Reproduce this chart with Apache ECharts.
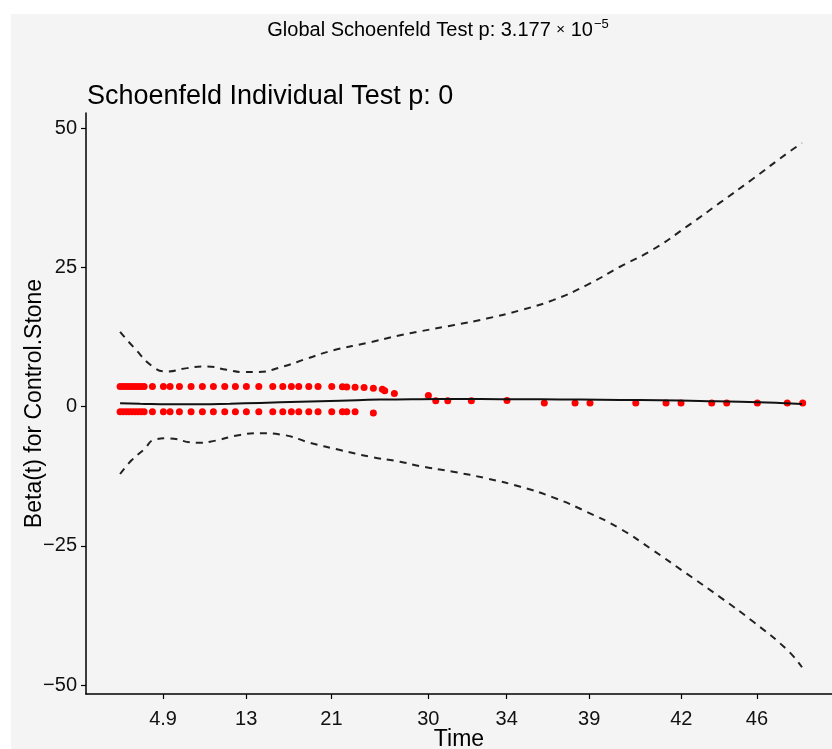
<!DOCTYPE html>
<html>
<head>
<meta charset="utf-8">
<script src="https://cdn.jsdelivr.net/npm/echarts@6/dist/echarts.min.js"></script>
<style>html,body{margin:0;padding:0;background:#fff;}#c{width:832px;height:749px;}</style>
</head>
<body>
<div id="c"></div>
<script>
// transformed time scale (0..100) of the event times
var xTickPos = [6.3, 18.5, 31.0, 45.2, 56.7, 68.8, 82.3, 93.4];
var xTickLabels = ['4.9', '13', '21', '30', '34', '39', '42', '46'];
var yTicks = [-50, -25, 0, 25, 50];

// scaled Schoenfeld residuals
var pointX = [
  0, 0.44, 0.88, 1.32, 1.76, 2.20, 2.64, 3.08, 3.52, 4.74, 6.35, 7.33, 8.70, 10.41, 12.07, 13.68,
  15.35, 16.91, 18.52, 20.34, 22.39, 23.86, 25.12, 26.20, 27.67, 29.03, 31.04, 32.60, 33.24, 34.46,
  35.78, 37.14, 38.46, 38.81, 40.22, 45.21, 46.29, 48.05, 51.51, 56.74, 62.21, 66.72, 68.91, 75.62,
  80.06, 82.26, 86.76, 88.96, 93.45, 97.84, 100.10,
  0, 0.44, 0.88, 1.32, 1.76, 2.20, 2.64, 3.08, 3.52, 4.74, 6.35, 7.33, 8.70, 10.41, 12.07, 13.68,
  15.35, 16.91, 18.52, 20.34, 22.39, 23.86, 25.12, 26.20, 27.67, 29.03, 31.04, 32.60, 33.24, 34.46,
  37.14
];
var pointY = [
  3.6, 3.6, 3.6, 3.6, 3.6, 3.6, 3.6, 3.6, 3.6, 3.6, 3.6, 3.6, 3.6, 3.6, 3.6, 3.6,
  3.6, 3.6, 3.6, 3.6, 3.6, 3.6, 3.6, 3.6, 3.6, 3.6, 3.6, 3.55, 3.5, 3.45,
  3.4, 3.3, 3.1, 2.85, 2.35, 2.0, 1.05, 1.05, 1.05, 1.1, 0.65, 0.65, 0.65, 0.65,
  0.65, 0.65, 0.65, 0.65, 0.65, 0.65, 0.65,
  -0.95, -0.95, -0.95, -0.95, -0.95, -0.95, -0.95, -0.95, -0.95, -0.95, -0.95, -0.95, -0.95, -0.95, -0.95, -0.95,
  -0.95, -0.95, -0.95, -0.95, -0.95, -0.95, -0.95, -0.95, -0.95, -0.95, -0.95, -0.95, -0.95, -0.95,
  -1.15
];

// smoothed beta(t)
var fitX = [0, 2.93, 7.33, 11.73, 16.13, 20.53, 26.39, 32.26, 38.12, 43.99, 49.85, 55.72, 61.58, 67.45, 73.31, 79.18, 85.04, 90.91, 96.77, 100];
var fitY = [0.6, 0.5, 0.4, 0.42, 0.52, 0.66, 0.86, 1.05, 1.25, 1.33, 1.35, 1.33, 1.3, 1.27, 1.2, 1.13, 1.0, 0.88, 0.65, 0.45];

// upper confidence band
var upX = [0, 1.95, 4.88, 6.85, 9.78, 12.71, 15.65, 18.08, 20.04, 23.94, 27.38, 31.28, 36.17, 41.06, 43.99, 48.83, 53.77, 58.72, 63.49, 68.43, 73.31, 78.15, 83.09, 87.98, 92.82, 97.76, 100];
var upY = [13.4, 10.7, 7.1, 6.3, 6.9, 7.2, 6.6, 6.2, 6.2, 7.2, 8.6, 10.1, 11.4, 12.8, 13.5, 14.6, 15.8, 17.3, 19.1, 21.8, 25.1, 28.2, 32.3, 36.6, 40.9, 45.4, 47.3];

// lower confidence band
var loX = [0, 1.72, 3.42, 5.13, 6.85, 11.25, 13.2, 17.6, 20.53, 23.94, 27.86, 32.26, 36.66, 41.06, 43.99, 48.83, 53.77, 58.72, 63.49, 68.43, 73.31, 78.15, 83.09, 87.98, 92.82, 97.76, 100];
var loY = [-12.1, -9.6, -7.8, -5.9, -5.7, -6.5, -6.3, -5.1, -4.8, -5.1, -6.5, -7.8, -9.0, -9.9, -10.7, -11.7, -12.9, -14.4, -16.3, -18.9, -21.9, -25.8, -30.0, -34.2, -38.6, -43.6, -46.8];

function zip(a, b) { return a.map(function (v, i) { return [v, b[i]]; }); }

var FONT = '"Liberation Sans", Arial, Helvetica, sans-serif';
var chart = echarts.init(document.getElementById('c'), null, { renderer: 'canvas' });
chart.setOption({
  backgroundColor: '#ffffff',
  animation: false,
  graphic: [{
    type: 'rect', left: 11, top: 14, z: -10,
    shape: { width: 830, height: 740 },
    style: { fill: '#f4f4f4' }
  }],
  title: [{
    text: '{a|Global Schoenfeld Test p: 3.177 }{b|×}{a| 10}{s|−5}',
    left: 438, top: 18, textAlign: 'center', padding: 0,
    textStyle: {
      rich: {
        a: { fontFamily: FONT, fontSize: 20, fontWeight: 'normal', color: '#000' },
        b: { fontFamily: FONT, fontSize: 15, fontWeight: 'normal', color: '#000' },
        s: { fontFamily: FONT, fontSize: 13, fontWeight: 'normal', color: '#000', padding: [0, 0, 11, 1] }
      }
    }
  }, {
    text: 'Schoenfeld Individual Test p: 0',
    left: 87, top: 83, padding: 0,
    textStyle: { fontFamily: FONT, fontSize: 27, fontWeight: 'normal', color: '#000' }
  }],
  grid: { left: 86, right: 0, top: 113, bottom: 55, containLabel: false, outerBoundsMode: 'none' },
  xAxis: {
    type: 'value', min: -5, max: 104.4,
    name: 'Time', nameLocation: 'middle', nameGap: 34, nameMoveOverlap: false,
    nameTextStyle: { fontFamily: FONT, fontSize: 23, color: '#000' },
    axisLine: { show: true, onZero: false, lineStyle: { color: '#000', width: 1.5 } },
    axisTick: { show: true, length: 5, customValues: xTickPos, lineStyle: { color: '#000', width: 1.2 } },
    axisLabel: {
      customValues: xTickPos, margin: 15,
      fontFamily: FONT, fontSize: 20, color: '#111',
      formatter: function (v) {
        for (var i = 0; i < xTickPos.length; i++) if (Math.abs(xTickPos[i] - v) < 1e-6) return xTickLabels[i];
        return '';
      }
    },
    splitLine: { show: false }
  },
  yAxis: {
    type: 'value', min: -51.6, max: 52.7,
    name: 'Beta(t) for Control.Stone', nameLocation: 'middle', nameGap: 40, nameMoveOverlap: false,
    nameTextStyle: { fontFamily: FONT, fontSize: 23, color: '#000' },
    axisLine: { show: true, onZero: false, lineStyle: { color: '#000', width: 1.5 } },
    axisTick: { show: true, length: 5, customValues: yTicks, lineStyle: { color: '#000', width: 1.2 } },
    axisLabel: {
      customValues: yTicks, margin: 9,
      fontFamily: FONT, fontSize: 20, color: '#111',
      formatter: function (v) { return String(v).replace('-', '\u2212'); }
    },
    splitLine: { show: false }
  },
  series: [{
    type: 'scatter', data: zip(pointX, pointY), symbolSize: 7,
    itemStyle: { color: '#ff0000', opacity: 1 }, z: 2
  }, {
    type: 'line', data: zip(fitX, fitY), smooth: true, showSymbol: false,
    lineStyle: { color: '#111', width: 2 }, z: 3
  }, {
    type: 'line', data: zip(upX, upY), smooth: true, showSymbol: false,
    lineStyle: { color: '#222', width: 2, type: [7, 6] }, z: 3
  }, {
    type: 'line', data: zip(loX, loY), smooth: true, showSymbol: false,
    lineStyle: { color: '#222', width: 2, type: [7, 6] }, z: 3
  }]
});
</script>
</body>
</html>
